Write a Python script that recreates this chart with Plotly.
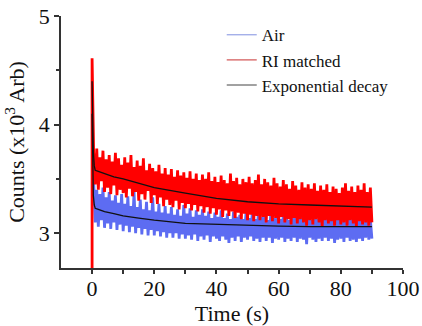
import plotly.graph_objects as go

# time axis for the measured series (s)
time = [round(0.5 * i, 1) for i in range(1, 181)]

# RI matched counts (x10^3)
ri_start_t = [0.0, 0.0]
ri_start_v = [2.0, 4.61]
ri_matched = [
    3.74, 3.45, 3.78, 3.40, 3.70, 3.48, 3.76, 3.38, 3.68, 3.42,
    3.72, 3.36, 3.66, 3.44, 3.74, 3.35, 3.69, 3.40, 3.63, 3.37,
    3.70, 3.33, 3.65, 3.41, 3.72, 3.34, 3.61, 3.38, 3.67, 3.30,
    3.62, 3.36, 3.69, 3.31, 3.58, 3.39, 3.64, 3.28, 3.60, 3.35,
    3.57, 3.27, 3.63, 3.33, 3.55, 3.25, 3.60, 3.31, 3.54, 3.26,
    3.59, 3.24, 3.52, 3.30, 3.58, 3.22, 3.53, 3.28, 3.56, 3.23,
    3.51, 3.27, 3.57, 3.21, 3.50, 3.26, 3.55, 3.20, 3.49, 3.25,
    3.54, 3.19, 3.50, 3.24, 3.56, 3.18, 3.48, 3.23, 3.52, 3.17,
    3.47, 3.22, 3.53, 3.15, 3.49, 3.21, 3.46, 3.16, 3.55, 3.20,
    3.48, 3.14, 3.51, 3.19, 3.45, 3.13, 3.50, 3.18, 3.47, 3.12,
    3.52, 3.17, 3.46, 3.11, 3.49, 3.16, 3.54, 3.12, 3.45, 3.15,
    3.50, 3.10, 3.47, 3.16, 3.44, 3.11, 3.51, 3.14, 3.46, 3.09,
    3.43, 3.15, 3.49, 3.10, 3.45, 3.13, 3.41, 3.08, 3.48, 3.14,
    3.44, 3.09, 3.40, 3.13, 3.47, 3.10, 3.42, 3.07, 3.45, 3.12,
    3.41, 3.08, 3.46, 3.13, 3.39, 3.10, 3.44, 3.06, 3.40, 3.12,
    3.45, 3.09, 3.38, 3.11, 3.43, 3.07, 3.41, 3.12, 3.37, 3.08,
    3.42, 3.10, 3.46, 3.07, 3.39, 3.12, 3.43, 3.09, 3.38, 3.06,
    3.44, 3.11, 3.40, 3.08, 3.46, 3.10, 3.38, 3.07, 3.42, 3.10,
]

# Air counts (x10^3)
air = [
    3.48, 3.10, 3.40, 3.06, 3.36, 3.12, 3.42, 3.05, 3.33, 3.09,
    3.38, 3.04, 3.30, 3.10, 3.35, 3.03, 3.28, 3.08, 3.36, 3.02,
    3.27, 3.07, 3.34, 3.01, 3.25, 3.06, 3.38, 3.00, 3.24, 3.05,
    3.31, 2.99, 3.22, 3.04, 3.29, 2.98, 3.21, 3.03, 3.33, 2.98,
    3.20, 3.02, 3.27, 2.97, 3.19, 3.01, 3.25, 2.96, 3.18, 3.00,
    3.24, 2.96, 3.17, 3.00, 3.22, 2.95, 3.16, 2.99, 3.26, 2.95,
    3.18, 2.98, 3.23, 2.94, 3.15, 2.99, 3.21, 2.93, 3.17, 2.97,
    3.22, 2.94, 3.16, 2.98, 3.20, 2.92, 3.14, 2.97, 3.19, 2.95,
    3.15, 2.93, 3.21, 2.97, 3.14, 2.94, 3.18, 2.91, 3.13, 2.96,
    3.20, 2.93, 3.15, 2.97, 3.17, 2.92, 3.13, 2.96, 3.19, 2.94,
    3.14, 2.97, 3.18, 2.93, 3.13, 2.95, 3.20, 2.92, 3.15, 2.96,
    3.17, 2.93, 3.12, 2.96, 3.19, 2.91, 3.14, 2.95, 3.16, 2.94,
    3.13, 2.96, 3.18, 2.92, 3.15, 2.95, 3.12, 2.93, 3.19, 2.96,
    3.16, 2.92, 3.13, 2.95, 3.18, 2.94, 3.14, 2.90, 3.17, 2.96,
    3.12, 2.94, 3.16, 2.92, 3.13, 2.95, 3.18, 2.93, 3.14, 2.96,
    3.17, 2.93, 3.12, 2.95, 3.16, 2.91, 3.13, 2.94, 3.18, 2.95,
    3.14, 2.92, 3.17, 2.96, 3.12, 2.93, 3.15, 2.94, 3.18, 2.92,
    3.13, 2.95, 3.16, 2.93, 3.14, 2.96, 3.17, 2.94, 3.13, 2.95,
]

# exponential decay fits
fit_t = [0, 0.2, 0.4, 0.7, 1, 2, 4, 7, 10, 15, 20, 30, 40, 50, 60, 70, 80, 90]
fit_ri = [4.40, 4.00, 3.75, 3.62, 3.58, 3.57, 3.55, 3.52, 3.50, 3.46, 3.42,
          3.37, 3.32, 3.29, 3.27, 3.26, 3.25, 3.24]
fit_air = [4.10, 3.60, 3.35, 3.26, 3.23, 3.22, 3.20, 3.18, 3.16, 3.14, 3.12,
           3.09, 3.08, 3.07, 3.065, 3.06, 3.06, 3.06]

# axis ticks
x_ticks = [0, 20, 40, 60, 80, 100]
x_all_ticks = [0, 10, 20, 30, 40, 50, 60, 70, 80, 90, 100]
y_ticks = [3, 4, 5]
y_minor_ticks = [3.5, 4.5]

BLUE = "#5d6cf2"
RED = "#ff0000"
BLACK = "#111111"
AXC = "#333333"

fig = go.Figure()
fig.add_trace(go.Scatter(x=[0.5] + time, y=[3.5] + air, mode="lines",
                         line=dict(color=BLUE, width=2.8), showlegend=False))
fig.add_trace(go.Scatter(x=ri_start_t + time, y=ri_start_v + ri_matched, mode="lines",
                         line=dict(color=RED, width=2.8), showlegend=False))
fig.add_trace(go.Scatter(x=fit_t, y=fit_ri, mode="lines",
                         line=dict(color=BLACK, width=1.3), showlegend=False))
fig.add_trace(go.Scatter(x=fit_t, y=fit_air, mode="lines",
                         line=dict(color=BLACK, width=1.3), showlegend=False))

# legend entries
for name, col in [("Air", "#7f8fe0"), ("RI matched", "#c83030"), ("Exponential decay", "#444444")]:
    fig.add_trace(go.Scatter(x=[None], y=[None], mode="lines", name=name,
                             line=dict(color=col, width=1)))

font_family = "Liberation Serif"
fig.update_layout(
    width=422, height=326,
    margin=dict(l=61, r=19, t=16, b=58),
    paper_bgcolor="white", plot_bgcolor="white",
    font=dict(family=font_family, color="#111111", size=22),
    legend=dict(x=0.47, y=0.995, xanchor="left", yanchor="top",
                font=dict(size=17, family=font_family),
                bgcolor="rgba(0,0,0,0)", tracegroupgap=0),
    xaxis=dict(range=[-10, 100], tickvals=x_ticks,
               automargin=False,
               showline=True, linecolor=AXC, linewidth=1.5,
               ticks="",
               minor=dict(tickvals=x_all_ticks, ticks="outside", ticklen=4,
                          tickcolor=AXC, tickwidth=1.5),
               showgrid=False, zeroline=False,
               title=dict(text="Time (s)", standoff=0, font=dict(size=22))),
    yaxis=dict(range=[2.68, 5.0], tickvals=y_ticks,
               automargin=False,
               showline=True, linecolor=AXC, linewidth=1.5,
               ticks="outside", ticklen=5, tickcolor=AXC, tickwidth=1.5,
               minor=dict(tickvals=y_minor_ticks, ticks="outside", ticklen=3,
                          tickcolor=AXC),
               showgrid=False, zeroline=False,
               title=dict(text="Counts (x10<sup>3</sup> Arb)", standoff=8, font=dict(size=22))),
)

fig.write_html("out.html")
